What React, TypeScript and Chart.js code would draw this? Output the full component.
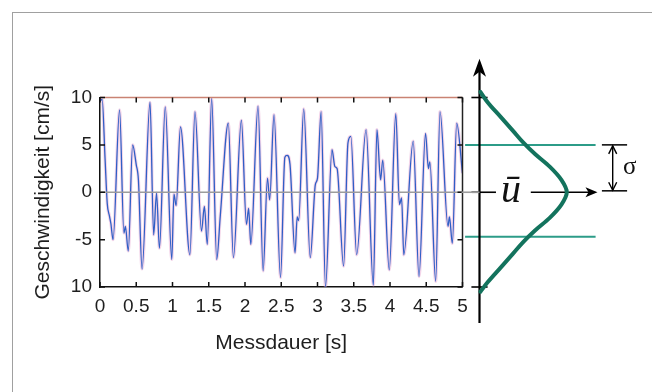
import React, { useEffect, useRef } from "react";
import { Chart, registerables } from "chart.js";
Chart.register(...registerables);

// ---- data: measured velocity signal ----
const timeS = [
  0.0, 0.03, 0.07, 0.1, 0.13, 0.15, 0.18, 0.27, 0.33, 0.35, 0.39, 0.45, 0.5, 0.53, 0.58,
  0.69, 0.74, 0.78, 0.82, 0.9, 0.99, 1.02, 1.05, 1.11, 1.24, 1.31, 1.4, 1.44, 1.48, 1.54,
  1.61, 1.66, 1.77, 1.84, 1.95, 2.02, 2.05, 2.08, 2.18, 2.25, 2.31, 2.34, 2.4, 2.49, 2.55,
  2.58, 2.62, 2.69, 2.72, 2.74, 2.81, 2.9, 2.97, 3.0, 3.05, 3.11, 3.2, 3.24, 3.27, 3.36,
  3.42, 3.46, 3.54, 3.67, 3.77, 3.82, 3.87, 3.9, 3.99, 4.08, 4.13, 4.16, 4.19, 4.32, 4.4,
  4.49, 4.53, 4.55, 4.63, 4.69, 4.8, 4.82, 4.86, 4.92, 5.0,
];
const velocity = [
  9.6, 9.8, 3.5, -1.2, -2.5, -3.3, -5.0, 8.7, -4.3, -3.6, -6.2, 5.0, 2.9, 1.3, -8.1,
  9.5, -4.5, -0.1, -5.9, 9.0, -7.1, -0.2, -1.4, 6.9, -6.6, 8.5, -4.1, -1.5, -5.5, 9.9,
  -7.1, -2.4, 7.3, -6.9, 7.6, -3.4, -1.7, -5.5, 9.1, -8.3, 1.5, -0.8, 8.2, -9.0, 3.7,
  3.9, 3.0, -6.4, -2.6, -3.0, 8.8, -6.9, 0.8, 1.5, 8.5, -10.0, 4.5, 2.7, 2.5, -7.8,
  5.2, 5.9, -6.6, 6.6, -9.8, 6.6, 1.3, 3.4, -8.2, 8.3, -1.3, -0.6, -6.6, 5.4, -8.9,
  6.2, 2.5, 3.2, -9.4, 8.5, -3.6, -2.6, -5.4, 7.3, 2.0,
];

// axis ranges / ticks
const xMin = 0, xMax = 5, xStep = 0.5;
const yMin = -10, yMax = 10, yStep = 5;
const yTickLabels: Record<string, string> = { "10": "10", "5": "5", "0": "0", "-5": "-5", "-10": "10" };

// ---- data: distribution sketch ----
const gaussU = [10.6, 9.5, 8, 6.5, 5.2, 4, 2.7, 1.3, 0, -1.3, -2.7, -4, -5.2, -6.5, -8, -9.5, -10.5];
const gaussDensity = [0.01, 0.09, 0.23, 0.37, 0.49, 0.62, 0.78, 0.91, 0.97, 0.91, 0.78, 0.62, 0.49, 0.37, 0.23, 0.09, 0.01];
const meanU = 0;
const sigmaUpperU = 5;
const sigmaLowerU = -4.7;
const axisTickU = [10, 0, -10];

// positions in the sketch's units (x: density units, y: velocity units)
const sk = {
  xMin: -0.2, xMax: 1.8,
  axisBottom: -13.8, axisTop: 14.1,
  tickHalf: 0.09,
  meanStubEnd: 0.183,
  meanArrowStart: 0.57, meanArrowTip: 1.3,
  sigmaLineStart: -0.16, sigmaLineEnd: 1.29,
  bracketStart: 1.36, bracketEnd: 1.64, bracketX: 1.48,
  uLabelX: 0.35, sigmaLabelX: 1.67, sigmaLabelU: 2.6,
};

const FONT = "'Liberation Sans', Arial, sans-serif";
const SERIF = "'Liberation Serif', 'Times New Roman', serif";
const INK = "#1e1e1e";
const TEAL_DARK = "#13735d";
const TEAL = "#2c9c88";

const framePlugin = {
  id: "frame",
  afterDraw(chart: any) {
    const { ctx, chartArea: a } = chart;
    const xs = chart.scales.x, ys = chart.scales.y;
    ctx.save();
    ctx.lineWidth = 1.5;
    ctx.strokeStyle = "#c98373";
    ctx.beginPath(); ctx.moveTo(a.left, a.top); ctx.lineTo(a.right, a.top); ctx.stroke();
    ctx.strokeStyle = "#222";
    ctx.beginPath(); ctx.moveTo(a.right, a.top); ctx.lineTo(a.right, a.bottom); ctx.stroke();
    const tl = 5;
    ctx.strokeStyle = "#111";
    ctx.beginPath();
    xs.ticks.forEach((t: any) => {
      const px = xs.getPixelForValue(t.value);
      ctx.moveTo(px, a.bottom); ctx.lineTo(px, a.bottom - tl);
      ctx.moveTo(px, a.top); ctx.lineTo(px, a.top + tl);
    });
    ys.ticks.forEach((t: any) => {
      const py = ys.getPixelForValue(t.value);
      ctx.moveTo(a.left, py); ctx.lineTo(a.left + tl, py);
      ctx.moveTo(a.right, py); ctx.lineTo(a.right - tl, py);
    });
    ctx.stroke();
    ctx.restore();
  },
};

function stealth(ctx: any, x: number, y: number, ang: number, len: number, half: number, notch: number) {
  ctx.save();
  ctx.translate(x, y);
  ctx.rotate(ang);
  ctx.beginPath();
  ctx.moveTo(0, 0);
  ctx.lineTo(-len, -half);
  ctx.lineTo(-len + notch, 0);
  ctx.lineTo(-len, half);
  ctx.closePath();
  ctx.fill();
  ctx.restore();
}

const sketchPlugin = {
  id: "sketch",
  afterDatasetsDraw(chart: any) {
    const { ctx } = chart;
    const xs = chart.scales.x, ys = chart.scales.y;
    const X = (v: number) => xs.getPixelForValue(v);
    const Y = (v: number) => ys.getPixelForValue(v);
    ctx.save();
    ctx.fillStyle = "#000";
    stealth(ctx, X(0), Y(sk.axisTop), -Math.PI / 2, 18, 6.5, 5);
    stealth(ctx, X(sk.meanArrowTip) + 1, Y(meanU), 0, 12, 5, 3);
    ctx.strokeStyle = "#000";
    ctx.lineWidth = 1.4;
    const bx = X(sk.bracketX);
    const yt = Y(sigmaUpperU) + 1, yb = Y(meanU) - 2;
    ctx.beginPath();
    ctx.moveTo(bx - 4, yt + 8); ctx.lineTo(bx, yt); ctx.lineTo(bx + 4, yt + 8);
    ctx.moveTo(bx - 4, yb - 8); ctx.lineTo(bx, yb); ctx.lineTo(bx + 4, yb - 8);
    ctx.stroke();
    ctx.fillStyle = "#111";
    ctx.textAlign = "center";
    ctx.textBaseline = "alphabetic";
    ctx.font = `italic 40px ${SERIF}`;
    ctx.fillText("ū", X(sk.uLabelX), Y(meanU) + 10);
    ctx.font = `25px ${SERIF}`;
    ctx.textBaseline = "middle";
    ctx.fillText("σ", X(sk.sigmaLabelX), Y(sk.sigmaLabelU));
    ctx.restore();
  },
};

const seg = (x1: number, y1: number, x2: number, y2: number, color: string, width: number) => ({
  data: [{ x: x1, y: y1 }, { x: x2, y: y2 }],
  borderColor: color,
  borderWidth: width,
  pointRadius: 0,
  clip: false,
  tension: 0,
});

const fmt = (v: any) => String(Math.round(Number(v) * 10) / 10);

export default function App() {
  const ref1 = useRef<HTMLCanvasElement>(null);
  const ref2 = useRef<HTMLCanvasElement>(null);

  useEffect(() => {
    document.body.style.margin = "0";
    const points = timeS.map((t, i) => ({ x: t, y: velocity[i] }));
    const tickFont = { family: FONT, size: 19 };
    const main = new Chart(ref1.current!, {
      type: "line",
      data: {
        datasets: [
          { ...seg(xMin, 0, xMax, 0, "#9c9c9c", 1.6), clip: true } as any,
          { data: points, borderColor: "#2f5fc6", borderWidth: 1.3, pointRadius: 0, cubicInterpolationMode: "monotone" },
          { data: points, borderColor: "rgba(226,150,200,0.4)", borderWidth: 3.2, pointRadius: 0, cubicInterpolationMode: "monotone" },
        ],
      },
      options: {
        animation: false,
        responsive: false,
        maintainAspectRatio: false,
        layout: { padding: { left: 0, top: 97.5, right: 189.5, bottom: 0 } },
        plugins: { legend: { display: false }, tooltip: { enabled: false } },
        scales: {
          x: {
            type: "linear", min: xMin, max: xMax,
            ticks: { stepSize: xStep, font: tickFont, color: INK, padding: 8, maxRotation: 0, callback: fmt },
            grid: { display: false, drawTicks: false },
            border: { display: true, color: "#111", width: 1.5 },
            title: { display: true, text: "Messdauer [s]", font: { family: FONT, size: 21 }, color: INK, padding: { top: 0, bottom: 36.5 } },
            afterFit: (s: any) => { s.height = 105; },
          },
          y: {
            type: "linear", min: yMin, max: yMax,
            ticks: { stepSize: yStep, font: tickFont, color: INK, padding: 8, callback: (v: any) => yTickLabels[String(v)] ?? String(v) },
            grid: { display: false, drawTicks: false },
            border: { display: true, color: "#111", width: 1.5 },
            title: { display: true, text: "Geschwindigkeit [cm/s]", font: { family: FONT, size: 21 }, color: INK, padding: { top: 31, bottom: 0 } },
            afterFit: (s: any) => { s.width = 100; },
          },
        },
      } as any,
      plugins: [framePlugin],
    });

    const gauss = gaussU.map((u, i) => ({ x: gaussDensity[i], y: u }));
    const ds: any[] = [
      seg(sk.xMin, meanU, 0, meanU, "#9c9c9c", 1.6),
      seg(-sk.tickHalf, meanU, sk.meanStubEnd, meanU, "#000", 1.6),
      seg(sk.meanArrowStart, meanU, sk.meanArrowTip - 0.05, meanU, "#000", 1.6),
      ...axisTickU.filter((u) => u !== meanU).map((u) => seg(-sk.tickHalf, u, sk.tickHalf, u, "#000", 1.6)),
      seg(0, sk.axisBottom, 0, sk.axisTop - 1, "#000", 2.2),
      seg(sk.sigmaLineStart, sigmaUpperU, sk.sigmaLineEnd, sigmaUpperU, TEAL, 2),
      seg(sk.sigmaLineStart, sigmaLowerU, sk.sigmaLineEnd, sigmaLowerU, TEAL, 2),
      seg(sk.bracketStart, sigmaUpperU, sk.bracketEnd, sigmaUpperU, "#000", 1.5),
      seg(sk.bracketStart, meanU + 0.15, sk.bracketEnd, meanU + 0.15, "#000", 1.5),
      seg(sk.bracketX, sigmaUpperU - 0.1, sk.bracketX, meanU + 0.25, "#000", 1.4),
    ];
    ds.unshift({
      data: gauss, borderColor: TEAL_DARK, borderWidth: 4, pointRadius: 0, clip: false,
      cubicInterpolationMode: "monotone", capBezierPoints: false, borderCapStyle: "round",
    });
    const side = new Chart(ref2.current!, {
      type: "line",
      data: { datasets: ds },
      options: {
        animation: false,
        responsive: false,
        maintainAspectRatio: false,
        indexAxis: "y",
        layout: { padding: { left: 461.5, top: 97.5, right: 10.5, bottom: 105 } },
        plugins: { legend: { display: false }, tooltip: { enabled: false } },
        scales: {
          x: { type: "linear", min: sk.xMin, max: sk.xMax, display: false },
          y: { type: "linear", min: yMin, max: yMax, display: false },
        },
      } as any,
      plugins: [sketchPlugin],
    });
    return () => { main.destroy(); side.destroy(); };
  }, []);

  const cv: React.CSSProperties = { position: "absolute", left: 0, top: 0, width: 652, height: 392 };
  return (
    <div style={{ position: "fixed", left: 0, top: 0, width: 652, height: 392, background: "#fff", overflow: "hidden" }}>
      <div style={{ position: "absolute", left: 12, top: 12, width: 700, height: 420, borderLeft: "1.5px solid #a0a0a0", borderTop: "1.5px solid #a0a0a0" }} />
      <canvas ref={ref1} width={652} height={392} style={cv} />
      <canvas ref={ref2} width={652} height={392} style={{ ...cv, pointerEvents: "none" }} />
    </div>
  );
}
